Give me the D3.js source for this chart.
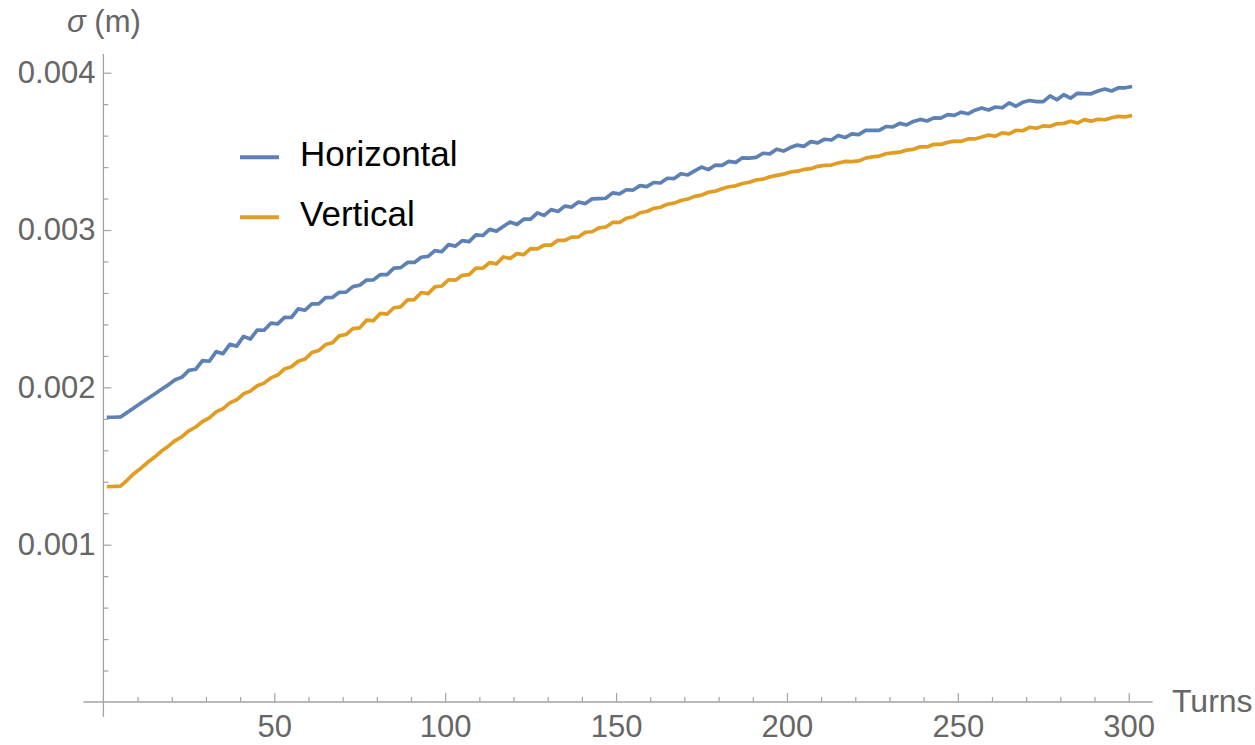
<!DOCTYPE html>
<html>
<head>
<meta charset="utf-8">
<script src="https://cdn.jsdelivr.net/npm/d3@7/dist/d3.min.js"></script>
<style>
	body { margin: 0; background: #fff; }
	svg { display: block; font-family: "Liberation Sans", Arial, sans-serif; }
</style>
</head>
<body>
<svg id="chart" width="1255" height="745"></svg>
<script>
(function() {
	'use strict';

	// beam size sigma, in micrometres, one value every 2nd turn (1, 3, ... 301)
	var turns = d3.range(1, 302, 2);

	var horizontal = [
		1810, 1810, 1812, 1841, 1870, 1900, 1929, 1958, 1988, 2016,
		2048, 2065, 2108, 2115, 2170, 2166, 2227, 2214, 2273, 2262,
		2324, 2307, 2364, 2363, 2408, 2404, 2445, 2444, 2499, 2490,
		2530, 2531, 2570, 2571, 2604, 2605, 2640, 2649, 2682, 2683,
		2716, 2717, 2758, 2761, 2794, 2794, 2827, 2832, 2869, 2862,
		2907, 2898, 2933, 2926, 2969, 2965, 3004, 2993, 3022, 3051,
		3035, 3069, 3069, 3109, 3093, 3130, 3118, 3152, 3146, 3178,
		3168, 3198, 3200, 3202, 3236, 3230, 3256, 3254, 3282, 3276,
		3302, 3299, 3329, 3327, 3358, 3350, 3376, 3400, 3384, 3412,
		3411, 3436, 3430, 3459, 3457, 3462, 3488, 3484, 3514, 3502,
		3524, 3540, 3532, 3562, 3554, 3577, 3572, 3601, 3588, 3611,
		3606, 3633, 3634, 3633, 3658, 3655, 3678, 3668, 3690, 3703,
		3693, 3713, 3711, 3733, 3729, 3749, 3739, 3762, 3776, 3763,
		3782, 3777, 3808, 3787, 3812, 3823, 3816, 3816, 3853, 3828,
		3860, 3838, 3869, 3867, 3866, 3884, 3896, 3884, 3904, 3904,
		3912
	];

	var vertical = [
		1369, 1370, 1372, 1411, 1453, 1486, 1524, 1557, 1595, 1626,
		1662, 1687, 1724, 1748, 1783, 1806, 1844, 1865, 1901, 1921,
		1959, 1976, 2010, 2027, 2060, 2078, 2117, 2131, 2166, 2180,
		2221, 2234, 2272, 2283, 2327, 2336, 2373, 2378, 2427, 2424,
		2470, 2466, 2506, 2512, 2556, 2558, 2603, 2596, 2639, 2644,
		2684, 2681, 2712, 2717, 2758, 2757, 2793, 2785, 2829, 2819,
		2850, 2844, 2882, 2880, 2904, 2904, 2935, 2934, 2955, 2956,
		2986, 2989, 3014, 3019, 3048, 3048, 3075, 3084, 3110, 3118,
		3138, 3145, 3164, 3171, 3188, 3197, 3214, 3222, 3240, 3247,
		3262, 3275, 3281, 3296, 3304, 3318, 3323, 3338, 3347, 3355,
		3369, 3374, 3385, 3390, 3405, 3411, 3413, 3426, 3436, 3435,
		3439, 3457, 3465, 3470, 3485, 3490, 3495, 3508, 3513, 3529,
		3528, 3545, 3544, 3557, 3565, 3564, 3579, 3579, 3591, 3604,
		3597, 3618, 3611, 3634, 3631, 3653, 3647, 3662, 3659, 3675,
		3678, 3691, 3680, 3702, 3692, 3704, 3701, 3714, 3722, 3719,
		3728
	];

	var seriesNames = ['Horizontal', 'Vertical'];
	var seriesColors = ['#5e81b5', '#e19c24'];

	var xMajorTicks = [50, 100, 150, 200, 250, 300];
	var xMinorTicks = [10, 20, 30, 40, 60, 70, 80, 90, 110, 120, 130, 140, 160, 170, 180, 190,
		210, 220, 230, 240, 260, 270, 280, 290];
	var yMajorTicks = [0.001, 0.002, 0.003, 0.004];
	var yMinorTicks = [0.0002, 0.0004, 0.0006, 0.0008, 0.0012, 0.0014, 0.0016, 0.0018,
		0.0022, 0.0024, 0.0026, 0.0028, 0.0032, 0.0034, 0.0036, 0.0038];

	var svg = d3.select('#chart');
	var axisColor = '#a3a3a3';
	var labelColor = '#666';

	var x = d3.scaleLinear().domain([0, 300]).range([103.4, 1128.7]);
	var y = d3.scaleLinear().domain([0, 0.004]).range([702, 72.7]);

	// axis lines, Mathematica style crossing at the origin and running a bit past it
	svg.append('line')
		.attr('x1', x(0) - 20).attr('x2', x(300) + 24)
		.attr('y1', y(0)).attr('y2', y(0))
		.attr('stroke', axisColor).attr('stroke-width', 1.3);
	svg.append('line')
		.attr('x1', x(0)).attr('x2', x(0))
		.attr('y1', y(0) + 15).attr('y2', y(0.0041) - 3)
		.attr('stroke', axisColor).attr('stroke-width', 1.3);

	var styleAxis = function(g) {
		g.select('.domain').remove();
		g.selectAll('.tick line').attr('stroke', axisColor).attr('stroke-width', 1.2);
		g.selectAll('.tick text')
			.attr('fill', labelColor)
			.style('font-size', '31px');
	};

	svg.append('g')
		.attr('transform', 'translate(0,' + y(0) + ')')
		.call(d3.axisBottom(x).tickValues(xMinorTicks).tickFormat('').tickSizeInner(-5).tickSizeOuter(0))
		.call(styleAxis);
	svg.append('g')
		.attr('transform', 'translate(0,' + y(0) + ')')
		.call(d3.axisBottom(x).tickValues(xMajorTicks).tickFormat(d3.format('d')).tickSizeInner(-9).tickSizeOuter(0).tickPadding(13))
		.call(styleAxis);

	svg.append('g')
		.attr('transform', 'translate(' + x(0) + ',0)')
		.call(d3.axisLeft(y).tickValues(yMinorTicks).tickFormat('').tickSizeInner(-5).tickSizeOuter(0))
		.call(styleAxis);
	svg.append('g')
		.attr('transform', 'translate(' + x(0) + ',0)')
		.call(d3.axisLeft(y).tickValues(yMajorTicks).tickFormat(d3.format('.3f')).tickSizeInner(-8).tickSizeOuter(0).tickPadding(8))
		.call(styleAxis);

	// axis labels
	var yLabel = svg.append('text')
		.attr('x', 67).attr('y', 32)
		.attr('fill', labelColor)
		.style('font-size', '31px');
	yLabel.append('tspan').style('font-style', 'italic').text('σ');
	yLabel.append('tspan').text(' (m)');

	svg.append('text')
		.attr('x', 1172).attr('y', 712)
		.attr('fill', labelColor)
		.style('font-size', '32px')
		.text('Turns');

	// the two curves
	var line = d3.line()
		.x(function(d, i) { return x(turns[i]); })
		.y(function(d) { return y(d / 1e6); });

	svg.selectAll('.serie')
		.data([horizontal, vertical])
		.enter().append('path')
		.attr('class', 'serie')
		.attr('fill', 'none')
		.attr('stroke', function(d, i) { return seriesColors[i]; })
		.attr('stroke-width', 3.7)
		.attr('stroke-linejoin', 'round')
		.attr('d', line);

	// legend
	var legend = svg.selectAll('.legend')
		.data(seriesNames)
		.enter().append('g')
		.attr('class', 'legend')
		.attr('transform', function(d, i) { return 'translate(240,' + (157.3 + i * 60) + ')'; });

	legend.append('line')
		.attr('x1', 0).attr('x2', 39)
		.attr('stroke', function(d, i) { return seriesColors[i]; })
		.attr('stroke-width', 4);

	legend.append('text')
		.attr('x', 60).attr('y', 8.5)
		.attr('fill', '#000')
		.style('font-size', '35px')
		.text(function(d) { return d; });
})();
</script>
</body>
</html>
